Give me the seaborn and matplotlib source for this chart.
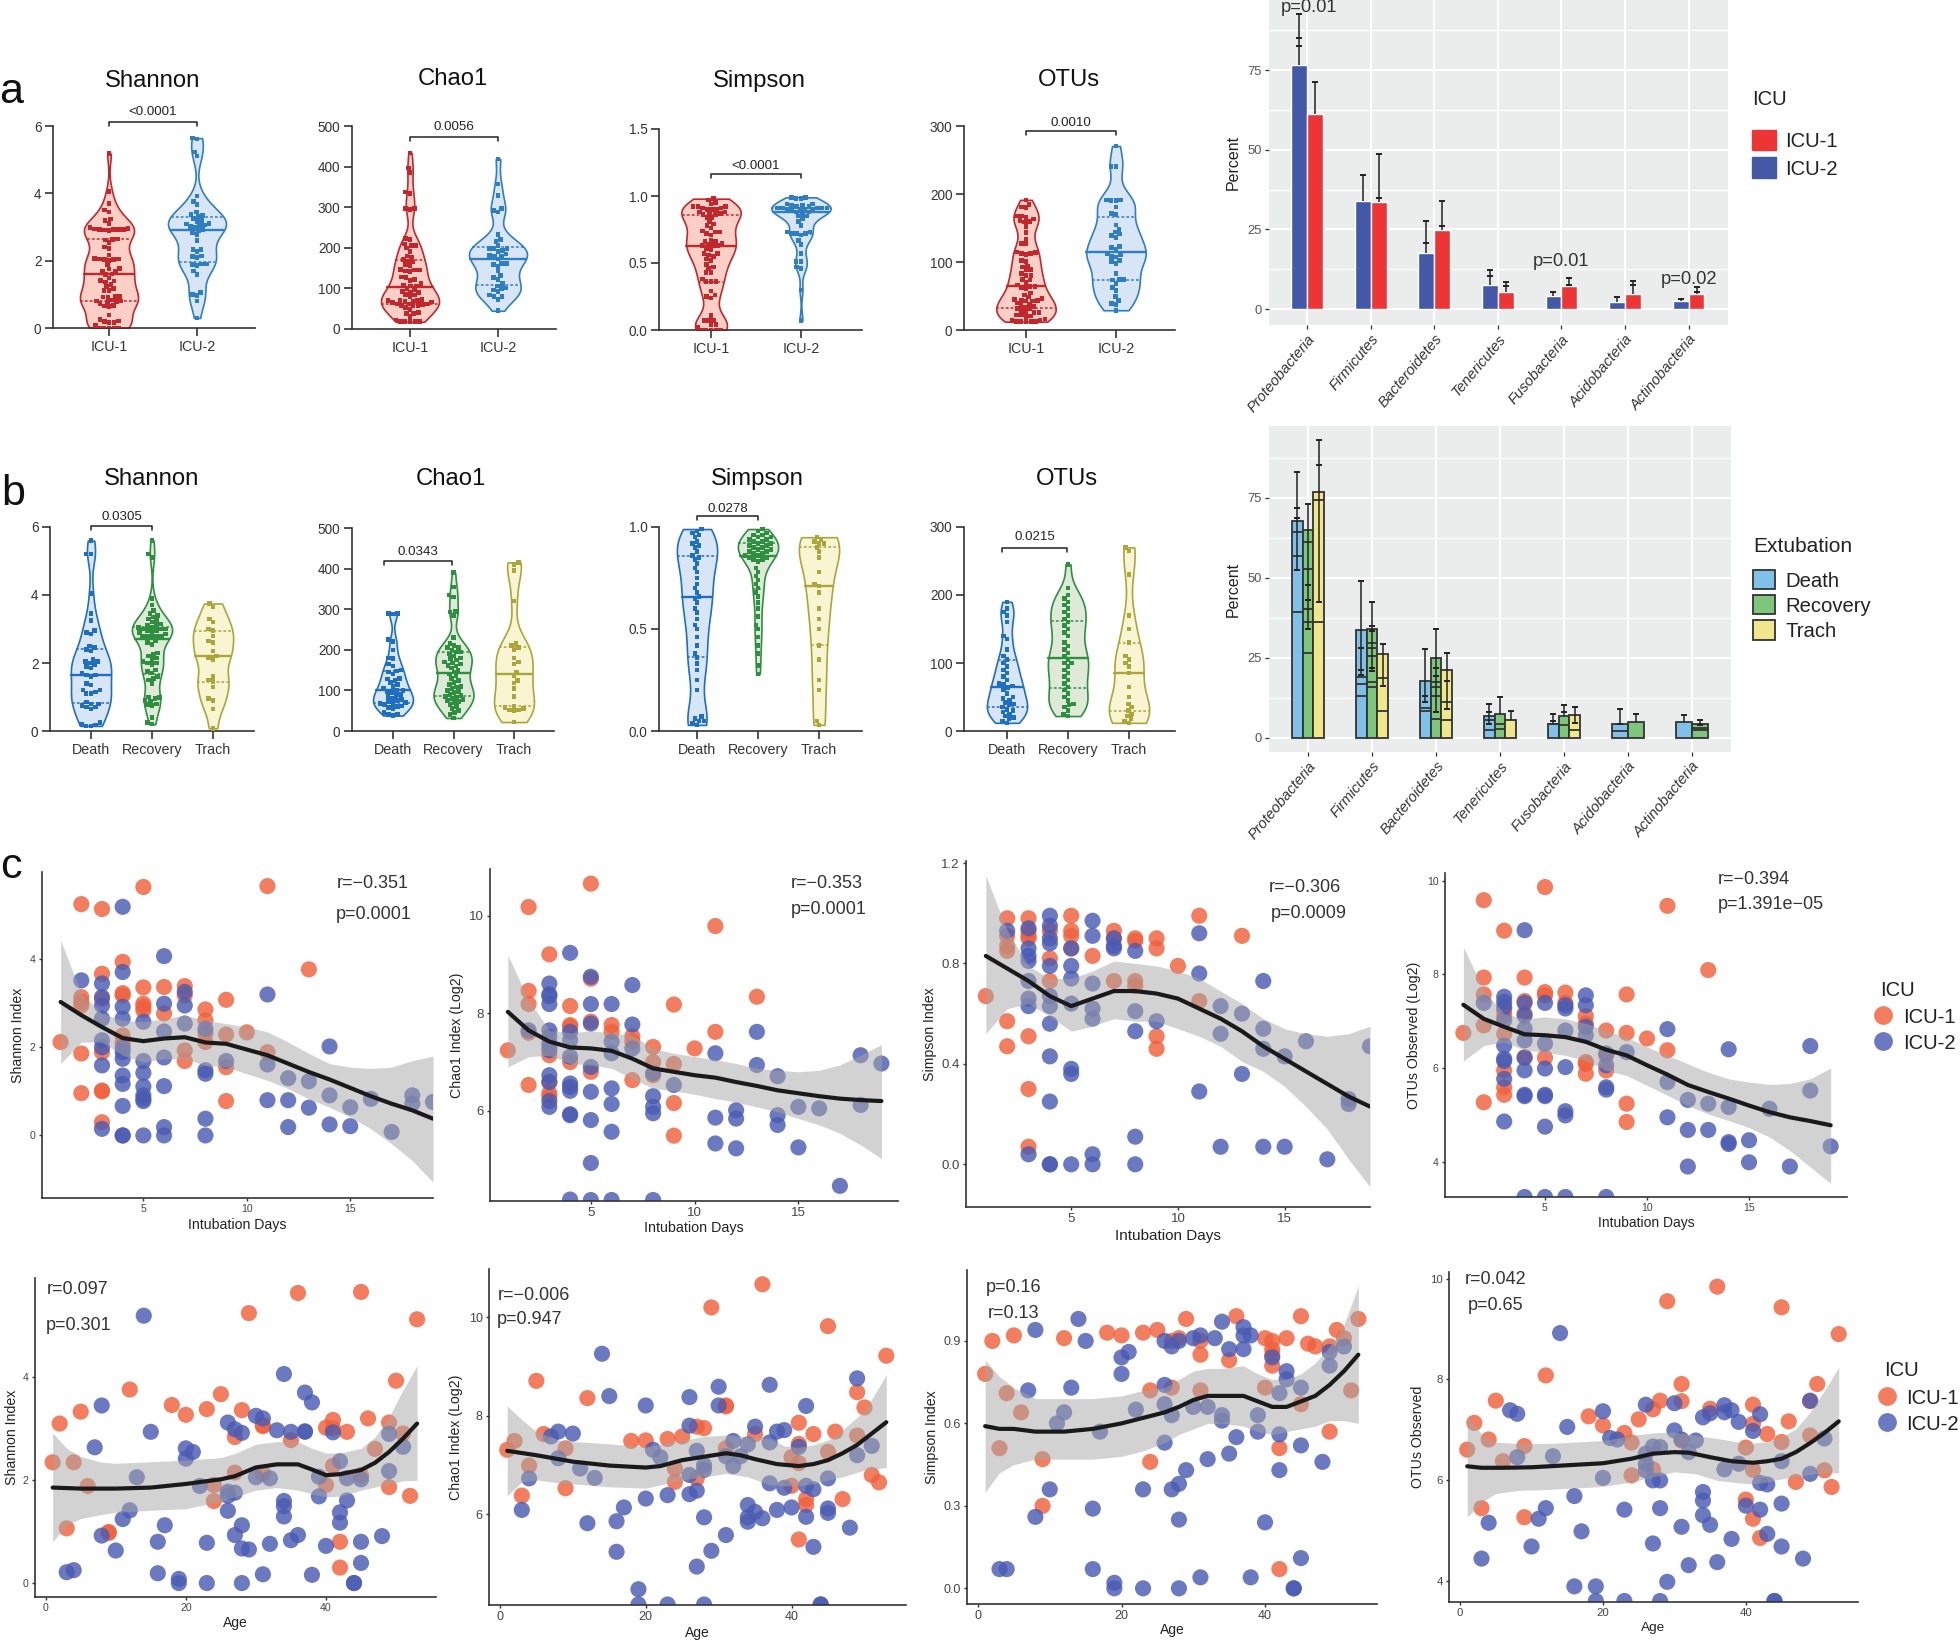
import warnings
import numpy as np
import pandas as pd
import matplotlib
matplotlib.use("Agg")
import matplotlib.pyplot as plt
from matplotlib.patches import Patch
from matplotlib.lines import Line2D
import seaborn as sns

warnings.filterwarnings("ignore")

# ---------- scatter data: intubation days (day -> values) ----------
days_shannon_icu1 = {1:[2.12],2:[5.25,1.86,0.96,3.14,3.03,2.95],3:[5.14,3.67,3.1,1.89,1.02,1.0,0.3],4:[3.94,3.23,3.18,2.27,2.12],
    5:[5.64,3.36,2.99,2.92,2.84],6:[3.37,2.77],7:[3.39,3.18,1.93,1.69],8:[2.86,2.61,2.31,2.12],9:[3.08,2.29,1.55,0.78],10:[2.34],11:[5.66,1.89],13:[3.77]}
days_shannon_icu2 = {2:[3.52],3:[3.45,3.14,2.95,2.65,2.16,2.0,1.59,0.15],4:[5.19,3.71,2.92,2.65,2.0,1.89,1.74,1.36,1.17,0.67,0,0],
    5:[2.58,1.69,1.42,1.11,0.91,0.83,0.78,0],6:[4.07,2.99,2.36,1.77,1.12,0.19,0],7:[3.26,2.95,2.54],8:[2.42,1.48,1.4,0.38,0],9:[1.69],
    11:[3.2,1.61,0.8],12:[1.3,0.8,0.19],13:[1.23,0.63],14:[2.02,0.91,0.25],15:[0.64,0.21],16:[0.83],17:[0.08],18:[0.91,0.72],19:[0.76]}
days_chao_icu1 = {1:[7.24],2:[10.18,8.46,8.19,7.6,6.53],3:[9.21,7.31,7.14,6.59,6.36,6.29],4:[8.15,7.76,7.72,7.0],5:[10.66,8.71,7.83,6.8],
    6:[7.76,7.62],7:[7.53,7.42,6.63],8:[7.31,7.0,6.73],9:[8.18,6.96,6.16,5.49],10:[7.28],11:[9.79,7.62],13:[8.34]}
days_chao_icu2 = {2:[7.65],3:[8.61,8.39,8.35,8.19,7.65,7.52,7.38,7.24,6.73,6.59,6.2,6.08],4:[9.24,7.62,7.45,7.11,6.56,6.49,6.41,5.93,5.91,4.18],
    5:[8.75,8.19,7.79,6.9,6.39,5.81,4.93,4.17],6:[8.19,7.42,7.18,6.46,6.14,5.57,4.17],7:[8.58,7.77,7.28],8:[6.77,6.3,6.08,5.95,4.17],9:[6.53],
    11:[7.18,5.86,5.33],12:[6.01,5.84,5.23],13:[7.62,6.94],14:[6.71,5.91,5.71],15:[6.08,5.25],16:[6.05],17:[4.46],18:[7.14,6.12],19:[6.97]}
days_simpson_icu1 = {1:[0.67],2:[0.98,0.91,0.87,0.85,0.57,0.47],3:[0.98,0.93,0.91,0.90,0.51,0.30,0.07],4:[0.93,0.82,0.73],5:[0.99,0.93,0.91,0.86],
    6:[0.83],7:[0.93,0.90,0.73],8:[0.90,0.89,0.73,0.71],9:[0.90,0.86,0.51,0.46],10:[0.79],11:[0.99,0.65],13:[0.91]}
days_simpson_icu2 = {2:[0.93],3:[0.94,0.86,0.83,0.81,0.73,0.66,0.63,0.04],4:[0.99,0.95,0.90,0.88,0.79,0.67,0.63,0.56,0.43,0.25,0,0],
    5:[0.86,0.79,0.74,0.64,0.38,0.36,0],6:[0.97,0.91,0.72,0.62,0.58,0.04,0],7:[0.90,0.87,0.86],8:[0.85,0.61,0.53,0.11,0],9:[0.57],
    11:[0.92,0.76,0.29],12:[0.63,0.52,0.07],13:[0.60,0.36],14:[0.73,0.54,0.46,0.07],15:[0.43,0.07],16:[0.49],17:[0.02],18:[0.26,0.24],19:[0.47]}
days_otu_icu1 = {1:[6.75],2:[9.58,7.93,7.57,6.91,5.27],3:[8.93,7.23,7.12,6.73,5.95,5.59,5.43],4:[7.93,7.43,7.16,6.23],5:[9.86,7.62,7.55,6.22],
    6:[7.61,7.39],7:[7.11,6.95,6.13,6.09,5.88],8:[6.8,6.27,5.95],9:[7.57,6.75,5.24,4.85],10:[6.63],11:[9.46,6.38],13:[8.09]}
days_otu_icu2 = {2:[7.39],3:[7.52,7.41,7.3,7.02,6.48,6.2,6.15,5.77,4.86],4:[8.94,7.39,7.12,6.84,6.59,6.22,5.95,5.43,5.4,3.25],
    5:[7.39,6.52,5.99,5.43,5.4,4.75,3.25],6:[7.34,7.27,6.8,6.02,5.08,4.99,3.25],7:[7.55,7.34,6.88,6.7],8:[6.31,6.06,5.59,5.54,3.25],9:[6.34],
    11:[6.83,5.7,4.95],12:[5.32,4.68,3.9],13:[5.24,4.68],14:[6.4,5.17,4.42,4.38],15:[4.46,3.99],16:[5.13],17:[3.9],18:[6.47,5.52],19:[4.33]}

# ---------- scatter data: age (age, value) ----------
age_shannon_icu1 = [(1,2.34),(2,3.09),(3,1.06),(4,2.34),(5,3.32),(6,1.88),(9,0.99),(9,0.97),(12,3.75),(18,3.45),(20,3.26),(23,3.37),(24,1.9),(24,1.59),(25,3.66),(27,2.83),(27,2.14),(28,3.35),(29,5.23),(31,3.06),(31,3.04),(31,2.12),(35,2.77),(36,5.62),(40,3.01),(40,1.9),(41,3.16),(41,3.0),(41,2.27),(42,0.8),(42,0.3),(43,2.93),(45,5.64),(45,2.09),(46,3.19),(47,2.6),(49,3.11),(49,1.86),(50,3.92),(51,2.9),(52,1.69),(53,5.11)]
age_shannon_icu2 = [(3,0.21),(4,0.25),(7,2.63),(8,3.44),(8,0.92),(10,0.63),(11,1.24),(12,1.41),(13,2.05),(14,5.18),(15,2.93),(16,0.8),(16,0.19),(17,1.12),(19,0.08),(19,0),(20,2.61),(20,2.41),(21,2.54),(22,1.88),(23,0.78),(23,0),(26,3.11),(26,1.77),(26,1.69),(26,1.4),(27,2.98),(27,1.75),(27,0.93),(28,2.91),(28,1.12),(28,0.67),(28,0),(29,0.65),(30,3.24),(30,2.05),(31,3.19),(31,0.17),(32,2.03),(32,0.76),(33,2.96),(34,4.05),(34,1.59),(34,1.49),(34,1.29),(35,2.93),(35,0.83),(36,0.93),(37,3.69),(37,2.94),(37,2.93),(38,3.5),(38,0.16),(39,2.06),(39,1.68),(40,0.72),(41,2.92),(42,2.36),(42,1.37),(42,1.17),(43,2.03),(43,1.6),(44,0),(44,0),(45,2.01),(45,0.8),(45,0.39),(48,0.91),(49,2.89),(49,2.17),(51,2.64)]
age_chao_icu1 = [(1,7.31),(2,7.49),(3,6.38),(4,6.99),(5,8.71),(6,7.63),(9,6.53),(9,7.34),(12,8.36),(18,7.49),(20,7.5),(23,7.53),(24,6.93),(24,6.66),(25,7.58),(27,7.78),(27,6.73),(28,7.75),(29,10.2),(31,8.21),(31,8.19),(31,7.34),(35,7.63),(36,10.67),(40,7.16),(40,6.58),(41,7.86),(41,7.43),(41,7.04),(41,5.49),(42,6.31),(42,6.19),(43,7.63),(45,9.82),(45,7.27),(46,7.68),(47,6.31),(49,8.48),(49,7.6),(50,8.17),(51,6.8),(52,6.65),(53,9.22)]
age_chao_icu2 = [(3,6.09),(4,6.73),(7,7.58),(8,7.68),(8,7.14),(10,7.64),(11,6.93),(12,5.82),(13,6.74),(14,9.26),(15,8.4),(16,5.86),(16,5.24),(17,6.14),(19,4.48),(19,4.17),(20,8.21),(20,6.32),(21,7.31),(22,7.16),(23,6.39),(23,4.17),(26,8.38),(26,7.8),(26,6.8),(26,6.41),(27,7.29),(27,6.48),(27,4.94),(28,7.0),(28,6.9),(28,5.94),(28,4.17),(29,5.26),(30,8.59),(30,8.21),(31,7.18),(31,5.58),(32,7.49),(32,6.98),(33,7.18),(34,7.42),(34,6.19),(34,5.94),(34,5.85),(35,7.78),(35,6.05),(36,5.92),(37,8.63),(37,7.46),(37,6.63),(38,7.68),(38,6.09),(39,7.71),(39,6.54),(40,6.14),(41,7.37),(42,8.2),(42,6.58),(42,5.95),(43,6.51),(43,5.34),(44,4.17),(44,4.17),(45,6.73),(45,6.12),(45,6.03),(48,5.73),(49,8.76),(49,7.2),(51,7.39)]
age_simpson_icu1 = [(1,0.78),(2,0.90),(3,0.51),(4,0.71),(5,0.92),(6,0.64),(9,0.47),(9,0.30),(12,0.91),(18,0.93),(20,0.92),(23,0.93),(24,0.72),(24,0.46),(25,0.94),(27,0.90),(27,0.73),(28,0.91),(29,0.98),(31,0.90),(31,0.85),(31,0.72),(35,0.83),(36,0.99),(40,0.91),(40,0.73),(41,0.90),(41,0.87),(41,0.85),(41,0.81),(43,0.91),(42,0.51),(42,0.07),(45,0.99),(45,0.67),(46,0.89),(47,0.88),(49,0.88),(49,0.57),(50,0.94),(51,0.91),(52,0.72),(53,0.98)]
age_simpson_icu2 = [(3,0.07),(4,0.07),(7,0.72),(8,0.94),(8,0.26),(10,0.36),(11,0.60),(12,0.64),(13,0.73),(14,0.98),(15,0.90),(16,0.29),(16,0.07),(17,0.57),(19,0.02),(19,0),(20,0.84),(20,0.78),(21,0.86),(22,0.65),(23,0.36),(23,0),(26,0.90),(26,0.74),(26,0.67),(26,0.53),(27,0.88),(27,0.63),(27,0.36),(28,0.90),(28,0.38),(28,0.25),(28,0),(29,0.43),(30,0.91),(30,0.66),(31,0.92),(31,0.04),(32,0.66),(32,0.47),(33,0.91),(34,0.97),(34,0.63),(34,0.61),(35,0.87),(35,0.49),(36,0.55),(37,0.95),(37,0.92),(37,0.87),(38,0.92),(38,0.04),(39,0.63),(39,0.57),(40,0.24),(41,0.84),(42,0.71),(42,0.56),(42,0.43),(43,0.79),(43,0.76),(44,0),(44,0),(45,0.73),(45,0.52),(45,0.11),(48,0.46),(49,0.86),(49,0.81),(51,0.88)]
age_otu_icu1 = [(1,6.61),(2,7.14),(3,5.45),(4,6.81),(5,7.58),(6,6.38),(9,6.68),(9,5.27),(12,8.08),(18,7.27),(20,7.09),(23,6.94),(24,6.75),(24,6.1),(25,7.21),(27,7.41),(27,6.22),(28,7.58),(29,9.55),(31,7.91),(31,7.57),(31,6.79),(35,7.42),(36,9.84),(40,6.65),(40,5.62),(41,7.5),(41,7.12),(41,6.21),(41,5.24),(42,4.86),(43,6.92),(45,9.43),(45,6.76),(46,7.17),(47,5.97),(49,7.57),(49,6.89),(50,7.91),(51,6.2),(52,5.87),(53,8.9)]
age_otu_icu2 = [(3,4.45),(4,5.16),(7,7.39),(8,7.32),(8,6.46),(10,4.69),(11,5.24),(12,5.45),(13,6.48),(14,8.92),(15,7.06),(16,5.69),(16,3.9),(17,4.99),(19,3.9),(19,3.61),(20,7.37),(20,6.05),(21,6.84),(22,6.81),(23,5.42),(23,3.61),(26,7.5),(26,6.53),(26,6.33),(26,6.2),(27,6.67),(27,6.0),(27,4.75),(28,6.66),(28,6.0),(28,5.45),(28,3.61),(29,3.99),(30,7.53),(30,6.99),(31,6.81),(31,5.08),(32,6.56),(32,4.32),(33,6.79),(34,7.25),(34,5.77),(34,5.6),(34,5.31),(35,7.33),(35,5.12),(36,4.38),(37,7.49),(37,7.35),(37,6.22),(38,7.39),(38,4.84),(39,7.16),(39,6.33),(40,5.5),(41,6.98),(42,7.31),(42,5.95),(42,5.42),(43,5.92),(43,4.94),(44,3.61),(44,3.61),(45,6.38),(45,5.54),(45,4.69),(48,4.45),(49,7.58),(49,6.13),(51,6.83)]

# ---------- smooth curves (x, y) and ribbons (x, upper, lower) ----------
day_grid = list(range(1, 20))
smooth_d_shannon = [3.03,2.73,2.46,2.21,2.14,2.2,2.23,2.11,2.08,1.95,1.82,1.63,1.44,1.27,1.08,0.89,0.72,0.57,0.38]
upper_d_shannon = [4.43,3.22,2.77,2.61,2.58,2.65,2.73,2.61,2.54,2.46,2.35,2.12,1.86,1.63,1.55,1.52,1.55,1.70,1.8]
lower_d_shannon = [1.63,2.12,2.12,1.82,1.67,1.74,1.74,1.59,1.55,1.4,1.25,1.06,0.83,0.64,0.42,0.15,-0.19,-0.57,-1.06]
smooth_d_chao = [8.03,7.65,7.42,7.3,7.28,7.23,7.07,6.87,6.8,6.73,6.68,6.59,6.51,6.42,6.36,6.3,6.25,6.22,6.2]
upper_d_chao = [9.19,8.27,7.65,7.6,7.64,7.6,7.55,7.28,7.18,7.11,7.05,6.97,6.87,6.83,6.8,6.83,6.94,7.14,7.36]
lower_d_chao = [6.9,7.11,7.14,6.97,6.94,6.87,6.66,6.46,6.41,6.34,6.25,6.18,6.08,5.98,5.84,5.71,5.54,5.3,5.02]
smooth_d_simpson = [0.83,0.78,0.73,0.67,0.63,0.66,0.69,0.69,0.68,0.66,0.62,0.58,0.53,0.47,0.42,0.37,0.32,0.27,0.23]
upper_d_simpson = [1.15,0.93,0.79,0.74,0.74,0.77,0.81,0.80,0.79,0.77,0.74,0.69,0.64,0.58,0.54,0.52,0.51,0.52,0.55]
lower_d_simpson = [0.52,0.62,0.64,0.59,0.53,0.55,0.58,0.57,0.57,0.54,0.51,0.47,0.41,0.37,0.31,0.23,0.14,0.02,-0.09]
smooth_d_otu = [7.35,7.05,6.88,6.72,6.7,6.66,6.56,6.39,6.27,6.06,5.86,5.64,5.49,5.35,5.2,5.06,4.95,4.87,4.78]
upper_d_otu = [8.58,7.66,7.16,7.05,7.09,7.05,6.95,6.8,6.66,6.45,6.27,6.09,5.91,5.77,5.7,5.65,5.67,5.77,6.0]
lower_d_otu = [6.15,6.48,6.56,6.38,6.34,6.27,6.16,5.95,5.84,5.63,5.42,5.2,5.02,4.88,4.73,4.53,4.24,3.89,3.54]

smooth_a_shannon_x = [1,5,10,15,20,25,27,30,33,36,38,40,42,45,47,49,51,53]
smooth_a_shannon = [1.85,1.83,1.83,1.85,1.92,2.01,2.07,2.24,2.3,2.3,2.2,2.09,2.11,2.19,2.33,2.54,2.8,3.09]
ribbon_a_shannon_x = [1,3,5,8,10,15,20,25,27,30,33,36,38,40,42,45,47,49,51,53]
upper_a_shannon = [2.91,2.61,2.45,2.34,2.32,2.35,2.38,2.43,2.51,2.69,2.74,2.74,2.61,2.52,2.52,2.61,2.83,3.22,3.74,4.21]
lower_a_shannon = [0.8,1.12,1.25,1.33,1.37,1.41,1.44,1.59,1.67,1.8,1.85,1.8,1.73,1.67,1.68,1.8,1.86,1.92,1.98,1.99]
smooth_a_chao_x = [1,5,10,15,20,22,25,28,31,33,35,38,41,43,45,47,49,51,53]
smooth_a_chao = [7.29,7.2,7.07,6.99,6.95,6.98,7.1,7.17,7.24,7.2,7.12,7.02,6.98,7.02,7.1,7.24,7.41,7.64,7.87]
ribbon_a_chao_x = [1,3,5,8,10,15,20,25,28,31,34,37,39,41,43,45,47,50,53]
upper_a_chao = [8.2,7.92,7.68,7.51,7.48,7.43,7.37,7.5,7.58,7.61,7.58,7.54,7.39,7.36,7.41,7.51,7.71,8.1,8.83]
lower_a_chao = [6.38,6.66,6.7,6.64,6.62,6.56,6.53,6.7,6.76,6.83,6.76,6.6,6.58,6.58,6.62,6.7,6.76,6.9,6.95]
smooth_a_simpson_x = [1,3,5,8,12,16,20,23,26,28,30,32,34,37,39,41,43,45,47,49,51,53]
smooth_a_simpson = [0.59,0.58,0.58,0.57,0.57,0.58,0.60,0.62,0.64,0.66,0.685,0.70,0.70,0.70,0.68,0.66,0.66,0.68,0.70,0.74,0.79,0.85]
upper_a_simpson = [0.83,0.77,0.73,0.69,0.69,0.69,0.70,0.72,0.73,0.76,0.79,0.80,0.80,0.81,0.78,0.76,0.76,0.78,0.82,0.88,0.96,1.10]
lower_a_simpson = [0.35,0.42,0.45,0.47,0.47,0.47,0.48,0.50,0.53,0.56,0.58,0.60,0.60,0.59,0.57,0.56,0.57,0.58,0.59,0.61,0.61,0.60]
smooth_a_otu_x = [1,3,6,10,15,20,24,27,30,32,35,38,41,43,45,47,49,51,53]
smooth_a_otu = [6.28,6.25,6.25,6.26,6.3,6.34,6.43,6.53,6.56,6.55,6.46,6.38,6.35,6.38,6.43,6.56,6.74,6.94,7.17]
ribbon_a_otu_x = [1,3,5,8,12,16,20,24,27,30,33,36,39,41,43,45,47,49,51,53]
upper_a_otu = [7.29,6.92,6.76,6.73,6.73,6.76,6.79,6.89,6.94,6.96,6.89,6.83,6.76,6.74,6.77,6.86,7.02,7.35,7.78,8.24]
lower_a_otu = [5.27,5.57,5.74,5.8,5.82,5.85,5.88,5.97,6.07,6.17,6.13,6.0,5.95,5.93,5.97,6.03,6.08,6.12,6.15,6.15]

# ---------- violin data, panel b ----------
shannon_death = [5.6,5.2,5.2,4.05,3.45,3.25,2.95,2.9,2.85,2.5,2.45,2.4,2.35,2.1,2.05,2.05,2.0,1.95,1.9,1.85,1.7,1.65,1.65,1.6,1.4,1.35,1.2,1.2,1.15,1.1,1.1,0.85,0.8,0.8,0.75,0.7,0.7,0.65,0.25,0.2,0.18,0.15,0.15]
shannon_recovery = [5.6,5.2,5.1,3.9,3.7,3.55,3.45,3.4,3.35,3.3,3.25,3.2,3.15,3.1,3.1,3.05,3.05,3.0,3.0,3.0,2.95,2.95,2.9,2.9,2.85,2.8,2.8,2.8,2.78,2.75,2.65,2.6,2.55,2.3,2.25,2.2,2.15,2.1,2.05,2.0,2.0,1.95,1.8,1.75,1.7,1.6,1.55,1.5,1.4,1.0,0.98,0.95,0.9,0.88,0.8,0.78,0.75,0.4,0.25,0.2]
shannon_trach = [3.75,3.65,3.3,3.2,3.0,2.95,2.8,2.65,2.6,2.35,2.2,2.15,2.1,1.6,1.5,1.45,1.3,0.95,0.9,0.65,0.08]
chao_death = [290,290,288,225,220,200,180,178,165,160,150,148,145,140,130,128,125,120,115,110,105,100,100,98,95,90,88,85,80,78,75,72,70,68,68,65,62,60,58,55,45,40,40,38]
chao_recovery = [390,355,335,330,295,293,285,230,215,210,205,205,200,195,195,190,185,180,178,175,170,168,165,162,160,155,150,145,140,135,130,125,120,115,110,108,105,100,98,95,90,88,85,82,80,78,75,72,70,65,60,55,50,45,40,32]
chao_trach = [415,410,395,320,215,210,205,200,180,170,165,145,135,125,118,105,85,62,58,55,52,52,50,22]
simpson_death = [0.99,0.98,0.97,0.96,0.95,0.93,0.92,0.91,0.90,0.88,0.86,0.85,0.84,0.82,0.80,0.78,0.75,0.72,0.70,0.68,0.66,0.65,0.63,0.60,0.58,0.55,0.52,0.5,0.46,0.42,0.38,0.36,0.33,0.3,0.25,0.2,0.07,0.06,0.05,0.05,0.04,0.03]
simpson_recovery = [0.99,0.98,0.97,0.96,0.96,0.95,0.95,0.94,0.94,0.93,0.93,0.92,0.92,0.91,0.91,0.90,0.90,0.89,0.89,0.88,0.88,0.87,0.87,0.86,0.86,0.85,0.85,0.84,0.84,0.83,0.8,0.78,0.76,0.74,0.72,0.7,0.68,0.66,0.63,0.6,0.56,0.52,0.5,0.46,0.42,0.38,0.32,0.28]
simpson_trach = [0.95,0.94,0.93,0.92,0.92,0.9,0.88,0.85,0.78,0.72,0.71,0.68,0.6,0.55,0.5,0.42,0.35,0.25,0.2,0.05,0.03]
otu_death = [190,180,175,170,160,140,135,120,110,105,100,95,90,85,80,75,70,68,66,64,60,55,50,48,45,42,40,38,35,32,30,28,25,22,20,18,15,12]
otu_recovery = [245,210,200,195,190,185,180,175,170,165,160,155,150,145,140,130,125,120,115,110,105,100,100,95,90,85,80,75,70,65,60,55,50,45,40,38,35,30,25,22]
otu_trach = [270,265,230,170,150,130,110,105,100,95,85,65,50,40,35,30,25,22,18,15,12]

# ---------- bar data ----------
phyla = ["Proteobacteria","Firmicutes","Bacteroidetes","Tenericutes","Fusobacteria","Acidobacteria","Actinobacteria"]
bar_icu2 = [76.7,33.9,17.6,7.6,4.0,2.1,2.4]
bar_icu1 = [61.2,33.6,24.7,5.5,7.2,4.8,4.8]
err_icu2 = [[92.5,85,82.6],[42.2],[27.5,20.7],[12.3,10.3],[5.5],[3.7],[3.1]]
err_icu1 = [[71.4],[48.7,34.8],[33.8,26.1],[8.4,7.1],[9.8,7.6],[8.7,7.6],[6.8,5.5]]

bar_death = [67.7,33.6,17.9,7.0,4.5,4.5,4.9]
bar_recovery = [64.9,34.0,25.0,7.6,7.0,4.9,4.5]
bar_trach = [76.9,26.3,21.1,5.5,7.2]
inner_death = [[64.4,57,39.3],[19,16.7,13],[9.4,8.3],[5.7,2.4],[4.2],[2.1],[]]
inner_recovery = [[61.3,52.9,40.3,36.1,26.6],[29.7,28.1,25.5,17.4,15.8],[17.4,15.8,13.2,6],[4.5,2.8],[3.9],[],[3.1,2.4]]
inner_trach = [[74.3,36.1],[18.8,8.3],[11.1,5.5],[],[2.4]]
err_death = [[83.1,71.9,68.8,52.6],[49.2,28.1,21.1,19.8],[27.8,13,11.1],[10.7,8,4.2],[7.6,5.2],[8.9,4.2],[7.3]]
err_recovery = [[73.2,47.9,43.2,33.9],[42.4,35,33.3,21.9,20.8],[34,21.9,19.3,8],[12.8],[10.4,8],[7.6],[5.7,3.9]]
err_trach = [[93,85.4,42.4],[29.4,16.1],[26.6,17.7,9],[8.3],[9.6,4.7]]

# ---------- style ----------
sns.set_theme(style="ticks", rc={"axes.linewidth": 1.2, "axes.edgecolor": "#333333",
                                 "xtick.color": "#333333", "ytick.color": "#333333"})
plt.rcParams["font.family"] = ["Liberation Sans", "DejaVu Sans"]
plt.rcParams["text.color"] = "#222222"
plt.rcParams["axes.labelcolor"] = "#222222"

W, H = 1960, 1641
fig = plt.figure(figsize=(W / 100, H / 100), dpi=100, facecolor="white")


def axpx(l, t, r, b):
    return fig.add_axes([l / W, 1 - b / H, (r - l) / W, (b - t) / H])


def ftext(x, y, s, **kw):
    kw.setdefault("va", "center")
    return fig.text(x / W, 1 - y / H, s, **kw)


RED_E, RED_F = "#C2272D", "#F9CFC6"
BLU_E, BLU_F = "#2F7EC0", "#D8E5F5"
DEA_E, DEA_F = "#1F6FC0", "#D8E5F5"
GRN_E, GRN_F = "#2E8F40", "#DFE9D8"
YEL_E, YEL_F = "#ABA63C", "#F9F5D2"


def violin(box, first, step, data, names, edges, fills, ymax, yticks, yfmt, title, title_xy,
           pval, bracket_y, label_y, bracket_x=(0, 1)):
    l, t, r, b = box
    ax = axpx(l, t, r, b)
    df = pd.DataFrame({"g": np.repeat(names, [len(v) for v in data]), "v": np.concatenate(data)})
    sns.violinplot(data=df, x="g", y="v", hue="g", order=names, hue_order=names, palette=fills,
                   saturation=1, width=0.66, cut=0, bw_adjust=0.6, density_norm="width", inner="quart",
                   linewidth=1.2, linecolor="#333333", legend=False, ax=ax)
    for k, pc in enumerate(ax.collections):
        pc.set_edgecolor(edges[k])
    lines = list(ax.lines)
    for k, ln in enumerate(lines):
        ln.set_color(edges[k // 3])
        if k % 3 == 1:
            ln.set_linestyle("-")
            ln.set_linewidth(1.7)
        else:
            ln.set_linestyle((0, (1.8, 1.4)))
            ln.set_linewidth(1.1)
    sns.swarmplot(data=df, x="g", y="v", hue="g", order=names, hue_order=names, palette=edges,
                  marker="s", size=3.3, linewidth=0, legend=False, warn_thresh=1, ax=ax)
    ax.set_xlim((l - first) / step, (r - first) / step)
    ax.set_ylim(0, ymax)
    ax.set_yticks(yticks)
    ax.set_yticklabels([yfmt.format(v) for v in yticks])
    ax.set_xlabel("")
    ax.set_ylabel("")
    ax.tick_params(axis="both", length=5.8, width=1.2, pad=2.5)
    ax.tick_params(axis="x", labelsize=10.3, labelcolor="#333333")
    ax.tick_params(axis="y", labelsize=9.8, labelcolor="#333333")
    sns.despine(ax=ax)
    x0, x1 = bracket_x
    cap = ymax * 0.02
    ax.plot([x0, x0, x1, x1], [bracket_y - cap, bracket_y, bracket_y, bracket_y - cap], color="#222222",
            lw=1.1, clip_on=False)
    ax.text((x0 + x1) / 2, label_y, pval, ha="center", va="center", fontsize=9.6, color="#222222")
    ftext(title_xy[0], title_xy[1] + 1, title, ha="center", fontsize=17.2, color="#111111")
    return ax


# values with axis-top clipping: the outliers above the axis are not shown in panel a
def ys(pairs, top, log=False):
    v = np.array([p[1] for p in pairs], dtype=float)
    if log:
        v = np.power(2.0, v)
    return v[v <= top]


icu_names = ["ICU-1", "ICU-2"]
icu_e, icu_f = [RED_E, BLU_E], [RED_F, BLU_F]
violin((53, 126, 255, 328), 109, 88, [ys(age_shannon_icu2, 6), ys(age_shannon_icu1, 6)], icu_names, icu_e, icu_f,
       6, [0, 2, 4, 6], "{:d}", "Shannon", (153, 80), "<0.0001", 6.12, 6.42)
violin((352, 126, 556, 329), 410, 88, [ys(age_chao_icu2, 500, True), ys(age_chao_icu1, 500, True)], icu_names, icu_e, icu_f,
       500, [0, 100, 200, 300, 400, 500], "{:d}", "Chao1", (453, 78), "0.0056", 473, 498)
violin((659, 129, 862, 330), 711, 90, [ys(age_simpson_icu2, 1.5), ys(age_simpson_icu1, 1.5)], icu_names, icu_e, icu_f,
       1.5, [0.0, 0.5, 1.0, 1.5], "{:.1f}", "Simpson", (759, 80), "<0.0001", 1.164, 1.225)
violin((964, 126, 1175, 330), 1026, 90, [ys(age_otu_icu2, 300, True), ys(age_otu_icu1, 300, True)], icu_names, icu_e, icu_f,
       300, [0, 100, 200, 300], "{:d}", "OTUs", (1069, 79), "0.0010", 293, 304)

ext_names = ["Death", "Recovery", "Trach"]
ext_e, ext_f = [DEA_E, GRN_E, YEL_E], [DEA_F, GRN_F, YEL_F]
violin((50, 527, 254, 731), 91, 61, [shannon_death, shannon_recovery, shannon_trach], ext_names, ext_e, ext_f,
       6, [0, 2, 4, 6], "{:d}", "Shannon", (152, 478), "0.0305", 6.03, 6.3)
violin((352, 528, 554, 731), 393, 60.5, [chao_death, chao_recovery, chao_trach], ext_names, ext_e, ext_f,
       500, [0, 100, 200, 300, 400, 500], "{:d}", "Chao1", (451, 478), "0.0343", 419, 441, (-0.15, 0.98))
violin((659, 527, 862, 731), 697, 61, [simpson_death, simpson_recovery, simpson_trach], ext_names, ext_e, ext_f,
       1.0, [0.0, 0.5, 1.0], "{:.1f}", "Simpson", (757, 478), "0.0278", 1.054, 1.09)
violin((964, 527, 1175, 731), 1007, 61, [otu_death, otu_recovery, otu_trach], ext_names, ext_e, ext_f,
       300, [0, 100, 200, 300], "{:d}", "OTUs", (1067, 478), "0.0215", 269, 285, (-0.08, 0.98))


# ---------- bars ----------
def style_bar_axes(ax, ylim, xlim):
    ax.set_facecolor("#EBEDEC")
    ax.set_xlim(*xlim)
    ax.set_ylim(*ylim)
    ax.set_yticks([0, 25, 50, 75])
    ax.set_yticks([12.5, 37.5, 62.5, 87.5], minor=True)
    ax.set_xticks(range(len(phyla)))
    ax.set_xticklabels(phyla, rotation=50, ha="right", rotation_mode="anchor", fontstyle="italic",
                       fontsize=10.6, color="#333333")
    ax.grid(True, which="major", color="white", lw=1.4)
    ax.grid(True, which="minor", color="white", lw=0.9)
    ax.set_axisbelow(True)
    ax.tick_params(axis="y", which="minor", length=0)
    ax.tick_params(axis="both", which="major", length=3, width=0.9, color="#333333", pad=2)
    ax.tick_params(axis="y", labelsize=9.4, labelcolor="#555555")
    ax.set_xlabel("")
    ax.set_ylabel("")
    for s in ax.spines.values():
        s.set_visible(False)


def add_errors(ax, container, errs, inners=None, edge="#222222"):
    for bar in container:
        cx = bar.get_x() + bar.get_width() / 2
        i = int(round(cx))
        e = errs[i]
        top = bar.get_height()
        ax.vlines(cx, min(top, min(e)), max(e), color=edge, lw=1.1, zorder=5)
        ax.plot([cx] * len(e), e, ls="none", marker="_", ms=4.2, mew=1.4, color=edge, zorder=5)
        if inners is not None:
            for v in inners[i]:
                ax.hlines(v, bar.get_x(), bar.get_x() + bar.get_width(), color="#333333", lw=1.3, zorder=4)


ax = axpx(1269, 0, 1728, 325)
dfa = pd.DataFrame({"phylum": phyla * 2, "ICU": ["ICU-2"] * 7 + ["ICU-1"] * 7, "pct": bar_icu2 + bar_icu1})
sns.barplot(data=dfa, x="phylum", y="pct", hue="ICU", order=phyla, hue_order=["ICU-2", "ICU-1"],
            palette={"ICU-1": "#EE3536", "ICU-2": "#4458A8"}, saturation=1, width=0.5, gap=0,
            errorbar=None, legend=False, ax=ax)
add_errors(ax, ax.containers[0], err_icu2)
add_errors(ax, ax.containers[1], err_icu1)
style_bar_axes(ax, (-5, 97), (-0.6, 6.62))
ax.set_ylabel("Percent", fontsize=11.5, color="#222222", va="center")
ax.yaxis.set_label_coords((1233 - 1269) / 459, 0.5)
for x, y, s in [(1309, 8, "p=0.01"), (1561, 262, "p=0.01"), (1689, 279, "p=0.02")]:
    ftext(x, y, s, ha="center", fontsize=13.2, color="#333333")

ax = axpx(1269, 426, 1731, 752)
ext_cols = {"Death": "#7FC1E8", "Recovery": "#7EC67C", "Trach": "#F0E68C"}
dfb3 = pd.DataFrame({"phylum": phyla[:5] * 3, "grp": ["Death"] * 5 + ["Recovery"] * 5 + ["Trach"] * 5,
                     "pct": bar_death[:5] + bar_recovery[:5] + bar_trach})
dfb2 = pd.DataFrame({"phylum": phyla[5:] * 2, "grp": ["Death"] * 2 + ["Recovery"] * 2,
                     "pct": bar_death[5:] + bar_recovery[5:]})
sns.barplot(data=dfb3, x="phylum", y="pct", hue="grp", order=phyla, hue_order=ext_names, palette=ext_cols,
            saturation=1, width=0.5, gap=0, errorbar=None, legend=False, edgecolor="#333333", linewidth=1.3, ax=ax)
sns.barplot(data=dfb2, x="phylum", y="pct", hue="grp", order=phyla, hue_order=ext_names[:2], palette=ext_cols,
            saturation=1, width=0.5, gap=0, errorbar=None, legend=False, edgecolor="#333333", linewidth=1.3, ax=ax)
conts = list(ax.containers)
add_errors(ax, conts[0], err_death, inner_death)
add_errors(ax, conts[1], err_recovery, inner_recovery)
add_errors(ax, conts[2], err_trach, inner_trach)
add_errors(ax, conts[3], err_death, inner_death)
add_errors(ax, conts[4], err_recovery, inner_recovery)
style_bar_axes(ax, (-4.4, 97.5), (-0.61, 6.61))
ax.set_ylabel("Percent", fontsize=11.5, color="#222222", va="center")
ax.yaxis.set_label_coords((1233 - 1269) / 462, 0.5)

# ---------- scatter ----------
C1, C2 = "#F0603C", "#4B5BB2"


def expand(d):
    return [(k, v) for k, vals in d.items() for v in vals]


def scatter(box, pairs1, pairs2, sx, sy, rx, up, lo, xlim, ylim, xticks, yticks, yfmt, xlabel, ylabel,
            ylab_x, xlab_y, tick_fs, xlab_fs, notes):
    l, t, r, b = box
    ax = axpx(l, t, r, b)
    df = pd.DataFrame(pairs1 + pairs2, columns=["x", "y"])
    df["ICU"] = ["ICU-1"] * len(pairs1) + ["ICU-2"] * len(pairs2)
    sns.scatterplot(data=df, x="x", y="y", hue="ICU", palette={"ICU-1": C1, "ICU-2": C2}, s=135, alpha=0.82,
                    linewidth=0, legend=False, ax=ax, zorder=2)
    ax.fill_between(rx, lo, up, color="#A6A6A6", alpha=0.5, linewidth=0, zorder=3)
    sns.lineplot(x=sx, y=sy, color="#1A1A1A", lw=3.0, errorbar=None, ax=ax, zorder=4)
    ax.set_xlim(*xlim)
    ax.set_ylim(*ylim)
    ax.set_xticks(xticks)
    ax.set_yticks(yticks)
    ax.set_yticklabels([yfmt.format(v) for v in yticks])
    ax.tick_params(axis="both", length=2.5, width=1.0, pad=2, labelsize=tick_fs, labelcolor="#444444")
    ax.set_xlabel(xlabel, fontsize=xlab_fs, va="center")
    ax.set_ylabel(ylabel, fontsize=10.2, va="center")
    ax.yaxis.set_label_coords((ylab_x - l) / (r - l), 0.5)
    ax.xaxis.set_label_coords(0.5, -(xlab_y - b) / (b - t))
    sns.despine(ax=ax)
    for x, y, s in notes:
        ftext(x, y, s, ha="left", fontsize=13, color="#333333")


days_x = (5, 10, 15)
scatter((42, 872, 433, 1198), expand(days_shannon_icu1), expand(days_shannon_icu2), day_grid, smooth_d_shannon,
        day_grid, upper_d_shannon, lower_d_shannon, (0.1, 19), (-1.42, 5.98), days_x, [0, 2, 4], "{:d}",
        "Intubation Days", "Shannon Index", 18, 1225, 7.6, 10.2,
        [(337, 883, "r=\u22120.351"), (336, 914, "p=0.0001")])
scatter((490, 869, 898, 1201), expand(days_chao_icu1), expand(days_chao_icu2), day_grid, smooth_d_chao,
        day_grid, upper_d_chao, lower_d_chao, (0.14, 19.8), (4.15, 10.96), days_x, [6, 8, 10], "{:d}",
        "Intubation Days", "Chao1 Index (Log2)", 457, 1228, 9.5, 10.3,
        [(791, 884, "r=\u22120.353"), (791, 910, "p=0.0001")])
scatter((966, 861, 1370, 1207), expand(days_simpson_icu1), expand(days_simpson_icu2), day_grid, smooth_d_simpson,
        day_grid, upper_d_simpson, lower_d_simpson, (0.07, 19), (-0.17, 1.208), days_x, [0, 0.4, 0.8, 1.2], "{:.1f}",
        "Intubation Days", "Simpson Index", 930, 1236, 9.5, 11,
        [(1269, 887, "r=\u22120.306"), (1271, 913, "p=0.0009")])
scatter((1445, 873, 1847, 1197), expand(days_otu_icu1), expand(days_otu_icu2), day_grid, smooth_d_otu,
        day_grid, upper_d_otu, lower_d_otu, (0.1, 19.8), (3.25, 10.16), days_x, [4, 6, 8, 10], "{:d}",
        "Intubation Days", "OTUs Observed (Log2)", 1414, 1223, 7.6, 10,
        [(1718, 880, "r=\u22120.394"), (1718, 904, "p=1.391e\u221205")])

ages_x = (0, 20, 40)
scatter((35, 1278, 436, 1597), age_shannon_icu1, age_shannon_icu2, smooth_a_shannon_x, smooth_a_shannon,
        ribbon_a_shannon_x, upper_a_shannon, lower_a_shannon, (-1.52, 55.7), (-0.27, 5.91), ages_x, [0, 2, 4], "{:d}",
        "Age", "Shannon Index", 12, 1623, 7.6, 10, [(47, 1290, "r=0.097"), (46, 1326, "p=0.301")])
scatter((489, 1269, 906, 1605), age_chao_icu1, age_chao_icu2, smooth_a_chao_x, smooth_a_chao,
        ribbon_a_chao_x, upper_a_chao, lower_a_chao, (-1.5, 55.7), (4.16, 10.98), ages_x, [6, 8, 10], "{:d}",
        "Age", "Chao1 Index (Log2)", 456, 1633, 9, 10, [(498, 1296, "r=\u22120.006"), (497, 1319, "p=0.947")])
scatter((967, 1270, 1377, 1604), age_simpson_icu1, age_simpson_icu2, smooth_a_simpson_x, smooth_a_simpson,
        smooth_a_simpson_x, upper_a_simpson, lower_a_simpson, (-1.53, 55.6), (-0.057, 1.158), ages_x,
        [0, 0.3, 0.6, 0.9], "{:.1f}", "Age", "Simpson Index", 932, 1630, 9, 10,
        [(986, 1287, "p=0.16"), (988, 1314, "r=0.13")])
scatter((1449, 1272, 1858, 1602), age_otu_icu1, age_otu_icu2, smooth_a_otu_x, smooth_a_otu,
        ribbon_a_otu_x, upper_a_otu, lower_a_otu, (-1.55, 55.7), (3.59, 10.13), ages_x, [4, 6, 8, 10], "{:d}",
        "Age", "OTUs Observed", 1418, 1628, 8.2, 9.7, [(1465, 1279, "r=0.042"), (1468, 1305, "p=0.65")])


# ---------- legends ----------
def legend(x, y, title, handles, labels, hl, hh, spacing, sep, textpad, title_fs):
    leg = fig.legend(handles=handles, labels=labels, loc="upper left", bbox_to_anchor=(x / W, 1 - y / H),
                     frameon=False, fontsize=14.6, title=title, title_fontsize=title_fs, alignment="left",
                     borderpad=0, borderaxespad=0, handlelength=hl, handleheight=hh, handletextpad=textpad,
                     labelspacing=spacing)
    if title:
        leg._legend_box.sep = sep
    return leg


legend(1752, 90, "ICU", [Patch(color="#EE3536"), Patch(color="#4458A8")], ["ICU-1", "ICU-2"],
       1.18, 1.18, 0.32, 15, 0.45, 14.6)
ext_h = [Patch(facecolor=ext_cols[n], edgecolor="#333333", linewidth=1.3) for n in ext_names]
legend(1753, 537, "Extubation", ext_h, ext_names, 1.1, 1.1, 0.22, 10, 0.5, 15)


def dot(c):
    return Line2D([], [], ls="none", marker="o", ms=13.5, mew=0, color=c, alpha=0.82)


ftext(1880, 990, "ICU", ha="left", fontsize=14.6)
legend(1873, 1007, None, [dot(C1), dot(C2)], ["ICU-1", "ICU-2"], 1.0, 1.0, 0.3, 8, 0.5, 14.6)
ftext(1884, 1371, "ICU", ha="left", fontsize=14.6)
legend(1877, 1388, None, [dot(C1), dot(C2)], ["ICU-1", "ICU-2"], 1.0, 1.0, 0.3, 8, 0.45, 14.6)

# ---------- panel letters ----------
for x, y, s in [(-1, 103, "a"), (1, 505, "b"), (0, 878, "c")]:
    fig.text(x / W, 1 - y / H, s, fontsize=31, va="baseline", ha="left", color="#111111")

fig.savefig("out.png", dpi=100, facecolor="white")
